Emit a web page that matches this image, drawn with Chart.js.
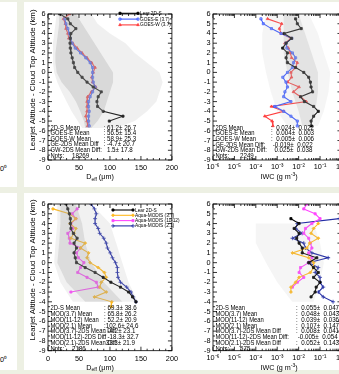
<!DOCTYPE html>
<html>
<head>
<meta charset="utf-8">
<script src="https://cdn.jsdelivr.net/npm/chart.js@4.4.1/dist/chart.umd.min.js"></script>
<style>
html, body { margin: 0; padding: 0; }
body { width: 339px; height: 374px; overflow: hidden; background: #edf0e3; position: relative; }
.cell { position: absolute; background: #fff; }
canvas { position: absolute; }
.cut { position: absolute; font: 7.3px 'Liberation Sans', sans-serif; color: #000; white-space: nowrap; }
</style>
</head>
<body>
<div class="cell" style="left:0;top:2px;width:17px;height:185px"></div>
<div class="cell" style="left:24px;top:2px;width:320px;height:185px"></div>
<div class="cell" style="left:0;top:193px;width:17px;height:177px"></div>
<div class="cell" style="left:24px;top:193px;width:320px;height:177px"></div>
<span class="cut" style="left:-4px;top:163px">10⁰</span>
<span class="cut" style="left:-4px;top:354px">10⁰</span>
<canvas id="c1" width="160" height="185" style="left:22px;top:2px;width:160px;height:185px"></canvas>
<canvas id="c2" width="160" height="185" style="left:190px;top:2px;width:160px;height:185px"></canvas>
<canvas id="c3" width="160" height="182" style="left:22px;top:193px;width:160px;height:182px"></canvas>
<canvas id="c4" width="160" height="182" style="left:190px;top:193px;width:160px;height:182px"></canvas>
<script>
const FONT = "'Liberation Sans', Arial, sans-serif";

// axes
const altTicks = [6, 5, 4, 3, 2, 1, 0, -1, -2, -3, -4, -5, -6, -7, -8, -9];
const deffTicks = [0, 50, 100, 150, 200];
const iwcTicks = [1e-6, 1e-5, 1e-4, 1e-3, 1e-2, 1e-1, 1];
const iwcTickLabels = ['10⁻⁶', '10⁻⁵', '10⁻⁴', '10⁻³', '10⁻²', '10⁻¹', '10⁰'];

// --- top left: Deff, Lear 2D-S vs GOES ---
const altLear1 = [6, 5.5, 5, 4.5, 4, 3.5, 3, 2.5, 2, 1.5, 1, 0.5, 0, -0.5, -1, -1.5, -2, -2.5, -3, -3.5, -4, -4.5, -5];
const deffLear1 = [19, 32, 36, 45, 37, 36, 35.5, 36, 37, 39, 41, 43, 48, 55, 63, 73, 86, 81, 79, 80, 89, 121, 99];
const altGoesE = [5.5, 5, 4.5, 4, 3.5, 3, 2.5, 2, 1.5, 1, 0.5, 0, -0.5, -1, -1.5, -2, -2.5, -3, -3.5, -4, -4.5, -5, -5.5];
const deffGoesE = [27, 29, 32, 34.5, 36, 39, 44, 52.5, 61, 68, 72, 72, 72, 73, 76, 72, 68, 65.5, 65.5, 66.5, 65.5, 65.5, 66.5];
const altGoesW = [6, 5.5, 5, 4.5, 4, 3.5, 3, 2.5, 2, 1.5, 1, 0.5, 0, -0.5, -1, -1.5, -2, -2.5, -3, -3.5, -4, -4.5, -5, -5.5];
const deffGoesW = [34.5, 25, 28, 29, 32, 33.5, 40, 47, 55, 63, 70.5, 76, 73, 70.5, 72, 77, 70, 64, 63, 63, 63, 61, 63, 64];
// gray cloud of single samples (outer and dense core)
const grayAlt1 = [6, 5, 4, 3, 2, 1, 0, -1, -2, -3, -4, -5, -5.7];
const grayLo1 = [14, 12, 10, 8, 8, 8, 10, 15, 22, 30, 38, 48, 55];
const grayHi1 = [70, 80, 100, 125, 140, 160, 180, 185, 180, 175, 160, 140, 110];
const coreLo1 = [18, 18, 16, 14, 12, 12, 14, 22, 35, 45, 52, 58, 60];
const coreHi1 = [45, 55, 65, 75, 85, 95, 105, 105, 100, 95, 90, 80, 70];

// --- top right: IWC, Lear 2D-S vs GOES ---
const altLear2 = [5.5, 5, 4.5, 4, 3.5, 3, 2.5, 2, 1.5, 1, 0.5, 0, -0.5, -1, -1.5, -2, -2.5, -3, -3.5, -4, -4.5, -5, -5.5];
const iwcLear2 = [0.0072, 0.0087, 0.0132, 0.0021, 0.0047, 0.0026, 0.0018, 0.0030, 0.0026, 0.0030, 0.0072, 0.0174, 0.0295, 0.0355, 0.038, 0.0447, 0.0123, 0.0186, 0.050, 0.083, 0.050, 0.038, 0.039];
const altGoesE2 = [5.5, 5, 4.5, 4, 3.5, 3, 2.5, 2, 1.5, 1, 0.5, 0, -0.5, -1, -1.5, -2, -2.5, -3, -3.5, -4, -4.5, -5, -5.5];
const iwcGoesE = [0.000174, 0.000224, 0.000537, 0.00151, 0.00479, 0.00257, 0.00282, 0.00513, 0.00724, 0.00575, 0.00513, 0.00302, 0.00182, 0.00257, 0.00302, 0.00229, 0.0020, 0.00437, 0.00076, 0.0020, 0.00437, 0.0087, 0.0087];
const altGoesW2 = [5.5, 5, 4.5, 4, 3.5, 3, 2.5, 2, 1.5, 1, 0.5, 0, -0.5, -1, -1.5, -2, -2.5, -3, -3.5, -4, -4.5, -5, -5.5];
const iwcGoesW = [0.000355, 0.00162, 0.00126, 0.00151, 0.00437, 0.00229, 0.00331, 0.00407, 0.00468, 0.0087, 0.00724, 0.00437, 0.00468, 0.00302, 0.0105, 0.00575, 0.0123, 0.0229, 0.000537, 0.0020, 0.000263, 0.000575, 0.00063];
const grayAlt2 = [6, 4, 2, 0, -2, -4, -5.5];
const grayLo2 = [3e-4, 2e-4, 2e-4, 3e-4, 5e-4, 1e-3, 3e-3];
const grayHi2 = [0.03, 0.08, 0.15, 0.3, 0.25, 0.15, 0.08];
const coreLo2 = [2e-3, 2e-3, 2e-3, 3e-3, 5e-3, 1e-2, 1.5e-2];
const coreHi2 = [0.01, 0.02, 0.04, 0.08, 0.08, 0.06, 0.04];

// --- bottom left: Deff, Lear 2D-S vs Aqua-MODIS ---
const altLear3 = [6, 5.5, 5, 4.5, 4, 3.5, 3, 2.5, 2, 1.5, 1, 0.5, 0, -0.5, -1, -1.5, -2, -2.5, -3, -3.5, -4];
const deffLear3 = [29, 32, 34.5, 36, 36, 37, 41, 47, 42, 46, 42, 44, 46, 60, 76, 89, 101.5, 117, 130, 136.5, 142];
const altMod37 = [5.5, 5, 4.5, 4, 3.5, 3, 2.5, 2, 1.5, 1, 0.5, 0, -0.5, -1, -1.5, -2, -2.5, -3, -3.5, -4, -4.5];
const deffMod37 = [8, 34.5, 45, 35.5, 45, 42, 37, 60, 52.5, 65.5, 63, 68, 81, 91, 94, 86, 83.5, 94, 75, 103, 102];
const altMod1112 = [5.5, 5, 4.5, 4, 3.5, 3, 2.5, 2, 1.5, 1, 0.5, 0, -0.5, -1, -1.5, -2, -2.5, -3];
const deffMod1112 = [47, 39, 45, 37, 40, 32, 34.5, 35.5, 52.5, 46, 49, 58, 52.5, 48, 63, 78, 81, 37];
const altMod21 = [6, 5.5, 5, 4.5, 4, 3.5, 3, 2.5, 2, 1.5, 1, 0.5, 0, -0.5, -1, -1.5, -2, -2.5, -3, -3.5, -4];
const deffMod21 = [69.5, 75, 78, 76, 76, 81, 83.5, 90, 94, 96, 100.5, 104, 109, 112, 112, 113, 117, 127, 134, 137.5, 142];
const grayAlt3 = [6, 4, 2, 0, -2, -4];
const grayLo3 = [15, 15, 12, 10, 20, 40];
const grayHi3 = [70, 100, 110, 120, 130, 145];
const coreLo3 = [20, 20, 18, 15, 30, 60];
const coreHi3 = [45, 55, 60, 70, 90, 120];

// --- bottom right: IWC, Lear 2D-S vs Aqua-MODIS ---
const altLear4 = [4.5, 4, 3.5, 3, 2.5, 2, 1.5, 1, 0.5, 0, -0.5, -1, -1.5, -2, -2.5, -3, -3.5];
const iwcLear4 = [0.00437, 0.0105, 0.00617, 0.0105, 0.00813, 0.0105, 0.0148, 0.0148, 0.0708, 0.0295, 0.050, 0.083, 0.050, 0.100, 0.066, 0.0589, 0.038];
const altMod37b = [4, 3.5, 3, 2.5, 2, 1.5, 1, 0.5, 0, -0.5, -1, -1.5, -2, -2.5, -3];
const iwcMod37 = [0.083, 0.050, 0.038, 0.083, 0.0331, 0.0245, 0.00513, 0.0295, 0.050, 0.050, 0.0355, 0.0105, 0.00724, 0.00437, 0.00437];
const altMod1112b = [6, 5.5, 5, 4.5, 4, 3.5, 3, 2.5, 2, 1.5, 1, 0.5, 0, -0.5, -1, -1.5, -2, -2.5];
const iwcMod1112 = [0.0245, 0.0174, 0.0589, 0.100, 0.0417, 0.0209, 0.0174, 0.0295, 0.0355, 0.0417, 0.0295, 0.0417, 0.0295, 0.0123, 0.0105, 0.0174, 0.0087, 0.00513];
const altMod21b = [4.5, 4, 3.5, 3, 2.5, 2, 1.5, 1, 0.5, 0, -0.5, -1, -1.5, -2, -2.5, -3, -3.5, -4];
const iwcMod21 = [0.79, 0.0087, 0.00724, 0.0148, 0.00513, 0.0174, 0.0209, 0.0417, 0.24, 0.0295, 0.083, 0.0589, 0.100, 0.100, 0.141, 0.083, 0.141, 0.407];
const grayAlt4 = [4, 2, 0, -2, -4];
const grayLo4 = [1e-4, 1e-4, 3e-4, 1e-3, 5e-3];
const grayHi4 = [0.05, 0.1, 0.15, 0.1, 0.05];

// statistics boxes
const statsLabels1 = ['2D-S Mean', 'GOES-E Mean', 'GOES-W Mean', 'GE-2DS Mean Diff', 'GW-2DS Mean Diff:', 'Npts:'];
const statsValues1 = [': 61.2± 26.7', ': 56.5± 15.4', ': 58.9± 25.3', ': -4.7± 20.7', '  1.5± 17.8', '18269'];
const statsLabels2 = ['2DS Mean', 'GOES-E Mean', 'GOES-W Mean', 'GE-2DS Mean Diff:', 'GW-2DS Mean Diff:', 'Npts:'];
const statsValues2 = [':  0.024±  0.022', ':  0.004±  0.003', ':  0.005±  0.006', ' -0.019±  0.022', '  0.025±  0.038', '2249'];
const statsLabels3 = ['2D-S Mean', 'MOD(3.7) Mean', 'MOD(11-12) Mean', 'MOD(2.1) Mean', 'MOD(3.7)-2DS Mean Diff', 'MOD(11-12)-2DS Diff', 'MOD(2.1)-2DS Mean Diff:', 'Npts:'];
const statsValues3 = [': 69.3± 38.6', ': 65.8± 26.2', ': 52.2± 20.9', ':102.6± 24.6', ': -4.2± 23.1', ': -18.3± 32.7', ' 33.3± 21.9', '2186'];
const statsLabels4 = ['2D-S Mean', 'MOD(3.7) Mean', 'MOD(11-12) Mean', 'MOD(2.1) Mean', 'MOD(3.7)-2DS Mean Diff', 'MOD(11-12)-2DS Mean Diff:', 'MOD(2.1)-2DS Mean Diff', 'Npts:'];
const statsValues4 = [':  0.055±  0.047', ':  0.048±  0.043', ':  0.039±  0.036', ':  0.107±  0.147', ':  0.008±  0.041', ' -0.005±  0.054', ':  0.052±  0.143', '575'];

const legendGoes = ['Lear 2D-S', 'GOES-E (3.7)', 'GOES-W (3.7)'];
const legendModis = ['Lear 2D-S', 'Aqua-MODIS (3.7)', 'Aqua-MODIS (11-12)', 'Aqua-MODIS (2.1)'];

const BLACK = '#000000', BLUE = 'rgb(60,90,255)', RED = 'rgb(255,60,60)';
const YELLOW = 'rgb(255,185,30)', MAGENTA = 'rgb(255,70,255)', NAVY = 'rgb(35,45,165)';

function pts(alt, vals) {
    return alt.map((a, i) => ({ x: vals[i], y: a }));
}

function envelope(alt, lo, hi) {
    const left = alt.map((a, i) => ({ x: lo[i], y: a }));
    const right = alt.map((a, i) => ({ x: hi[i], y: a })).reverse();
    return left.concat(right);
}

function series(data, color, style, fillCol) {
    return {
        data: data, showLine: true, borderColor: color, borderWidth: 1.1,
        pointStyle: style, pointRadius: style === 'cross' ? 2 : 1.5,
        pointBackgroundColor: fillCol || color, pointBorderColor: color, pointBorderWidth: 0.8,
        tension: 0
    };
}

function cloud(data, col) {
    return { data: data, showLine: true, fill: 'shape', backgroundColor: col, borderWidth: 0, pointRadius: 0 };
}

// squeezed text, the original figure uses a narrow plotting font
function narrowText(ctx, text, x, y, sx) {
    ctx.save();
    ctx.translate(x, y);
    ctx.scale(sx, 1);
    ctx.fillText(text, 0, 0);
    ctx.restore();
}

function makePanel(id, p) {
    const frame = {
        id: 'frame' + id,
        afterDatasetsDraw(chart) {
            const { ctx, chartArea: a, scales: { x, y } } = chart;
            ctx.save();
            ctx.strokeStyle = '#000';
            ctx.lineWidth = 0.8;
            ctx.strokeRect(a.left, a.top, a.right - a.left, a.bottom - a.top);
            ctx.beginPath();
            for (let v = -9; v <= 6; v += 0.5) {
                const py = y.getPixelForValue(v);
                const len = Number.isInteger(v) ? 4 : 2;
                ctx.moveTo(a.left, py); ctx.lineTo(a.left + len, py);
                ctx.moveTo(a.right, py); ctx.lineTo(a.right - len, py);
            }
            const xt = (v, len) => {
                const px = x.getPixelForValue(v);
                if (px < a.left - 0.5 || px > a.right + 0.5) return;
                ctx.moveTo(px, a.bottom); ctx.lineTo(px, a.bottom - len);
                ctx.moveTo(px, a.top); ctx.lineTo(px, a.top + len);
            };
            if (p.log) {
                iwcTicks.forEach((d, i) => {
                    xt(d, 4);
                    if (i < iwcTicks.length - 1) for (let m = 2; m < 10; m++) xt(d * m, 2);
                });
            } else {
                for (let v = 0; v <= 200; v += 10) xt(v, v % 50 === 0 ? 4 : 2);
            }
            ctx.stroke();
            ctx.restore();
        },
        afterDraw(chart) {
            const { ctx, chartArea: a } = chart;
            ctx.save();
            ctx.fillStyle = '#000';
            ctx.textBaseline = 'middle';
            ctx.textAlign = 'left';
            // stats
            ctx.font = '7.3px ' + FONT;
            p.statsLabels.forEach((t, i) => {
                const yy = a.top + p.statsTop + i * p.statsStep;
                narrowText(ctx, t, a.left + 2.5, yy, 0.8);
                const last = i === p.statsLabels.length - 1;
                narrowText(ctx, p.statsValues[i], a.left + (last ? p.nptsX : p.colonX), yy, 0.85);
            });
            // legend
            ctx.font = '5.6px ' + FONT;
            p.legend.forEach((t, i) => {
                const s = p.legendStyles[i];
                const yy = a.top + p.legendTop + i * p.legendStep;
                const x1 = a.left + p.legendX, x2 = x1 + p.legendLen;
                ctx.strokeStyle = s.color;
                ctx.lineWidth = 1.1;
                ctx.beginPath(); ctx.moveTo(x1, yy); ctx.lineTo(x2, yy); ctx.stroke();
                ctx.fillStyle = s.fill || s.color;
                ctx.lineWidth = 0.8;
                const opt = { pointStyle: s.style, radius: s.style === 'cross' ? 2 : 1.5, borderWidth: 0.8 };
                Chart.helpers.drawPoint(ctx, opt, x1, yy);
                Chart.helpers.drawPoint(ctx, opt, x2, yy);
                ctx.fillStyle = '#000';
                narrowText(ctx, t, x2 + 2, yy, 0.85);
            });
            // x title with sub/superscript
            const ty = a.bottom + 17;
            const parts = p.log
                ? [['IWC (g m', 8, 0], ['-3', 5.5, -2.5], [')', 8, 0]]
                : [['D', 8, 0], ['eff', 5.5, 2], [' (μm)', 8, 0]];
            const widths = parts.map(q => { ctx.font = q[1] + 'px ' + FONT; return ctx.measureText(q[0]).width * 0.9; });
            let sx = a.left + p.xTitleX - widths.reduce((s, w) => s + w, 0) / 2;
            parts.forEach((q, i) => {
                ctx.font = q[1] + 'px ' + FONT;
                narrowText(ctx, q[0], sx, ty + q[2], 0.9);
                sx += widths[i];
            });
            // y title
            if (p.yTitle) {
                const t = 'Learjet Altitude - Cloud Top Altitude (km)';
                ctx.font = '8px ' + FONT;
                const w = ctx.measureText(t).width;
                const k = 141 / w;
                ctx.translate(a.left - 15, a.top + 66);
                ctx.rotate(-Math.PI / 2);
                ctx.scale(k, 1);
                ctx.textAlign = 'center';
                ctx.fillText(t, 0, 0);
            }
            ctx.restore();
        }
    };

    const tickFont = { size: 7.3, family: FONT };
    const xScale = p.log ? {
        type: 'logarithmic', min: 1e-6, max: 1,
        afterBuildTicks: s => { s.ticks = iwcTicks.map(v => ({ value: v })); },
        ticks: { callback: (v, i) => iwcTickLabels[i], font: tickFont, color: '#000', padding: 3, autoSkip: false, maxRotation: 0 }
    } : {
        type: 'linear', min: 0, max: 200,
        afterBuildTicks: s => { s.ticks = deffTicks.map(v => ({ value: v })); },
        ticks: { font: tickFont, color: '#000', padding: 4, autoSkip: false, maxRotation: 0 }
    };
    xScale.grid = { display: false, drawTicks: false };
    xScale.border = { display: false };
    xScale.afterFit = s => { s.height = p.xH; };

    return new Chart(document.getElementById(id), {
        type: 'scatter',
        data: { datasets: p.datasets },
        options: {
            responsive: false,
            animation: false,
            events: [],
            layout: { padding: { top: p.padTop, right: p.padRight, left: 0, bottom: 0 } },
            plugins: { legend: { display: false }, tooltip: { enabled: false } },
            scales: {
                x: xScale,
                y: {
                    type: 'linear', min: -9, max: 6,
                    afterBuildTicks: s => { s.ticks = altTicks.map(v => ({ value: v })); },
                    afterFit: s => { s.width = p.yW; },
                    grid: { display: false, drawTicks: false },
                    border: { display: false },
                    ticks: { font: tickFont, color: '#000', padding: 2.5, autoSkip: false }
                }
            }
        },
        plugins: [frame]
    });
}

const goesStyles = [
    { color: BLACK, style: 'rect' },
    { color: BLUE, style: 'rect', fill: 'rgba(120,150,255,0.5)' },
    { color: RED, style: 'triangle' }
];
const modisStyles = [
    { color: BLACK, style: 'rect' },
    { color: YELLOW, style: 'rectRot' },
    { color: MAGENTA, style: 'rect' },
    { color: NAVY, style: 'cross' }
];

makePanel('c1', {
    log: false, padTop: 12, padRight: 5, yW: 26, xH: 27, yTitle: true, xTitleX: 52,
    statsLabels: statsLabels1, statsValues: statsValues1, statsTop: 113.5, statsStep: 5.65, colonX: 55.5, nptsX: 24,
    legend: legendGoes, legendStyles: goesStyles, legendTop: -0.7, legendStep: 5.8, legendX: 72, legendLen: 18,
    datasets: [
        cloud(envelope(grayAlt1, grayLo1, grayHi1), 'rgba(180,180,180,0.2)'),
        cloud(envelope(grayAlt1, coreLo1, coreHi1), 'rgba(150,150,150,0.28)'),
        series(pts(altLear1, deffLear1), BLACK, 'rect'),
        series(pts(altGoesE, deffGoesE), BLUE, 'rect', 'rgba(120,150,255,0.5)'),
        series(pts(altGoesW, deffGoesW), RED, 'triangle')
    ]
});

makePanel('c2', {
    log: true, padTop: 12, padRight: 5, yW: 23, xH: 27, yTitle: false, xTitleX: 66,
    statsLabels: statsLabels2, statsValues: statsValues2, statsTop: 113.7, statsStep: 5.6, colonX: 58, nptsX: 27,
    legend: [], legendStyles: [], legendTop: 0, legendStep: 0, legendX: 0, legendLen: 0,
    datasets: [
        cloud(envelope(grayAlt2, grayLo2, grayHi2), 'rgba(185,185,185,0.15)'),
        cloud(envelope(grayAlt2, coreLo2, coreHi2), 'rgba(160,160,160,0.22)'),
        series(pts(altLear2, iwcLear2), BLACK, 'rect'),
        series(pts(altGoesE2, iwcGoesE), BLUE, 'rect', 'rgba(120,150,255,0.5)'),
        series(pts(altGoesW2, iwcGoesW), RED, 'triangle')
    ]
});

makePanel('c3', {
    log: false, padTop: 11, padRight: 5, yW: 26, xH: 24.3, yTitle: true, xTitleX: 52,
    statsLabels: statsLabels3, statsValues: statsValues3, statsTop: 104.3, statsStep: 5.77, colonX: 56, nptsX: 24,
    legend: legendModis, legendStyles: modisStyles, legendTop: 6, legendStep: 5.3, legendX: 65, legendLen: 20,
    datasets: [
        cloud(envelope(grayAlt3, grayLo3, grayHi3), 'rgba(180,180,180,0.18)'),
        cloud(envelope(grayAlt3, coreLo3, coreHi3), 'rgba(155,155,155,0.25)'),
        series(pts(altLear3, deffLear3), BLACK, 'rect'),
        series(pts(altMod37, deffMod37), YELLOW, 'rectRot'),
        series(pts(altMod1112, deffMod1112), MAGENTA, 'rect'),
        series(pts(altMod21, deffMod21), NAVY, 'cross')
    ]
});

makePanel('c4', {
    log: true, padTop: 11, padRight: 5, yW: 23, xH: 24.3, yTitle: false, xTitleX: 66,
    statsLabels: statsLabels4, statsValues: statsValues4, statsTop: 104.3, statsStep: 5.77, colonX: 83, nptsX: 27,
    legend: [], legendStyles: [], legendTop: 0, legendStep: 0, legendX: 0, legendLen: 0,
    datasets: [
        cloud(envelope(grayAlt4, grayLo4, grayHi4), 'rgba(185,185,185,0.14)'),
        series(pts(altLear4, iwcLear4), BLACK, 'rect'),
        series(pts(altMod37b, iwcMod37), YELLOW, 'rectRot'),
        series(pts(altMod1112b, iwcMod1112), MAGENTA, 'rect'),
        series(pts(altMod21b, iwcMod21), NAVY, 'cross')
    ]
});
</script>
</body>
</html>
